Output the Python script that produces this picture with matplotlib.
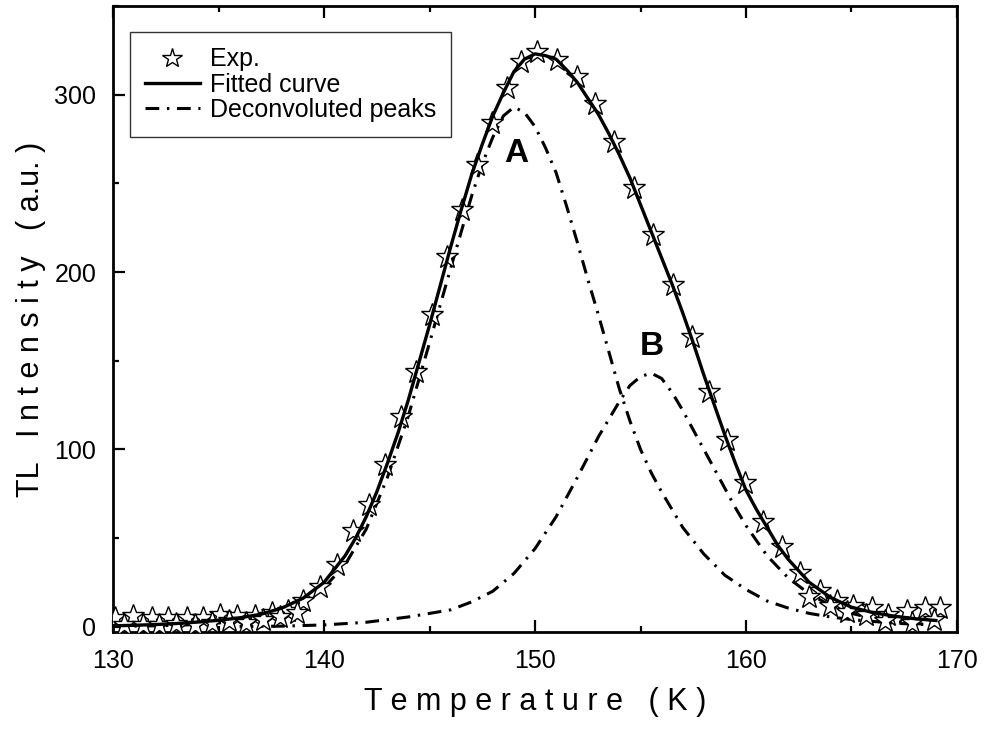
import matplotlib
matplotlib.use('Agg')
import matplotlib.pyplot as plt
from matplotlib.ticker import MultipleLocator

plt.rcParams['font.family'] = ['Liberation Sans', 'DejaVu Sans']

exp_T = [130.1, 130.96, 131.83, 132.62, 133.49, 134.28, 135.07, 135.86, 136.73, 137.52,
         138.31, 139.02, 139.81, 140.6, 141.39, 142.15, 142.89, 143.63, 144.36, 145.1,
         145.81, 146.52, 147.24, 147.95, 148.66, 149.34, 150.08, 151.03, 151.98, 152.84,
         153.76, 154.71, 155.6, 156.55, 157.43, 158.25, 159.1, 159.95, 160.82, 161.69,
         162.56, 163.5, 164.3, 165.09, 165.96, 166.74, 167.62, 168.48, 169.2,
         # lower row in the tails
         130.5, 131.4, 132.2, 133.0, 133.9, 134.7, 135.5, 136.3, 137.1, 137.9, 138.7,
         163.0, 163.98, 164.8, 165.7, 166.6, 167.85, 168.9]
exp_I = [4.9, 5.8, 4.9, 4.9, 4.9, 4.9, 6.8, 5.8, 5.8, 7.7,
         9.0, 14.3, 22.4, 34.9, 53.7, 68.7, 91.3, 118.5, 143.8, 175.8,
         208.6, 234.9, 260.3, 283.8, 304.0, 318.5, 324.0, 319.4, 309.7, 294.5,
         273.4, 247.1, 220.8, 192.7, 163.5, 132.6, 105.0, 81.0, 59.3, 45.2,
         30.2, 19.9, 14.3, 11.4, 10.5, 6.8, 8.6, 10.5, 10.5,
         1.0, 1.2, 1.0, 1.5, 1.2, 2.0, 3.0, 2.2, 3.5, 5.5, 8.0,
         17.0, 11.4, 8.5, 6.8, 3.0, 2.0, 4.0]

# fitted curve
fit_T = [130, 131, 132, 133, 134, 135, 136, 137, 138, 139, 140, 141, 141.5, 142, 142.5,
         143, 143.5, 144, 144.5, 145, 145.5, 146, 146.5, 147, 147.5, 148, 148.5, 149,
         149.5, 150, 150.5, 151, 151.5, 152, 152.5, 153, 153.5, 154, 154.5, 155, 155.5,
         156, 156.5, 157, 157.5, 158, 158.5, 159, 159.5, 160, 160.5, 161, 161.5, 162,
         163, 164, 165, 166, 167, 168, 169]
fit_I = [0.5, 0.8, 1.2, 1.8, 2.6, 3.6, 5.0, 7.0, 10.5, 16, 25, 40, 50, 62, 76,
         92, 109, 128, 149, 170, 192, 214, 235, 255, 272, 288, 301, 313,
         320, 323, 322, 320, 314, 307, 298, 289, 278, 266, 253, 238, 223,
         208, 193, 177, 160, 142, 125, 108, 92, 77, 66, 56, 46, 38,
         25, 16.5, 11, 8, 6, 4.5, 3.5]

# deconvoluted peak A
a_T = [130, 132, 134, 136, 137, 138, 139, 140, 141, 142, 143, 144, 145, 146, 147, 147.5,
       148, 148.5, 149, 149.5, 150, 150.5, 151, 151.5, 152, 152.5, 153, 153.5, 154,
       154.5, 155, 155.5, 156, 157, 158, 159, 160, 161, 162, 163, 164, 165, 166, 167,
       168, 169]
a_I = [0.2, 0.5, 1.2, 3, 5, 8.5, 14, 22, 35, 55, 84, 119, 160, 202, 243, 261,
       276, 288, 293, 290, 282, 270, 256, 237, 217, 196, 176, 155, 134,
       116, 100, 87, 76, 56, 41, 29, 21, 14.5, 10.5, 7.5, 5.5, 4, 3, 2,
       1.4, 1]

# deconvoluted peak B
b_T = [136, 138, 140, 142, 144, 146, 147, 148, 149, 150, 151, 152, 153, 154, 154.5,
       155, 155.5, 156, 156.5, 157, 157.5, 158, 158.5, 159, 159.5, 160, 161, 162, 163,
       164, 165, 166, 167, 168, 169]
b_I = [0.1, 0.3, 1, 2.5, 5.5, 9.5, 14, 20, 30, 44, 62, 84, 107, 127, 136,
       141, 143, 140, 132, 122, 111, 100, 89, 78, 67, 57, 40, 27.5, 18.5,
       12, 7.5, 4.8, 3, 1.8, 1.1]

fig = plt.figure(figsize=(9.87, 7.31), dpi=100)
ax = fig.add_axes([0.1145, 0.1354, 0.8551, 0.8564])

dd = (0, (4.5, 2.5, 0.8, 2.5))
ax.plot(exp_T, exp_I, linestyle='none', marker='*', ms=17, mfc='white',
        mec='black', mew=1.0, label='Exp.', zorder=3)
ax.plot(fit_T, fit_I, color='black', lw=2.4, label='Fitted curve', zorder=4)
ax.plot(a_T, a_I, color='black', lw=2.2, linestyle=dd, label='Deconvoluted peaks', zorder=2)
ax.plot(b_T, b_I, color='black', lw=2.2, linestyle=dd, zorder=2)

ax.text(149.13, 267, 'A', fontsize=24, fontweight='bold', ha='center', va='center')
ax.text(155.53, 158, 'B', fontsize=24, fontweight='bold', ha='center', va='center')

ax.set_xlim(130, 170)
ax.set_ylim(-3, 350)
ax.xaxis.set_major_locator(MultipleLocator(10))
ax.xaxis.set_minor_locator(MultipleLocator(5))
ax.yaxis.set_major_locator(MultipleLocator(100))
ax.yaxis.set_minor_locator(MultipleLocator(50))
ax.tick_params(which='both', direction='in', top=True, right=False, width=1.6,
               labelsize=18, pad=12)
ax.tick_params(which='major', length=8.5)
ax.tick_params(which='minor', length=4)
for s in ax.spines.values():
    s.set_linewidth(2)

ax.set_xlabel('T e m p e r a t u r e   ( K )', fontsize=22, labelpad=10)
ax.set_ylabel('TL   I n t e n s i t y   ( a.u. )', fontsize=22, labelpad=6)

leg = ax.legend(loc='upper left', bbox_to_anchor=(0.02, 0.958), fontsize=18,
                frameon=True, fancybox=False, edgecolor='black', handlelength=2.2,
                handletextpad=0.4, borderpad=0.6, labelspacing=0.05, borderaxespad=0,
                markerscale=0.85)
leg.get_frame().set_linewidth(1.0)

fig.savefig('out.png', dpi=100)
